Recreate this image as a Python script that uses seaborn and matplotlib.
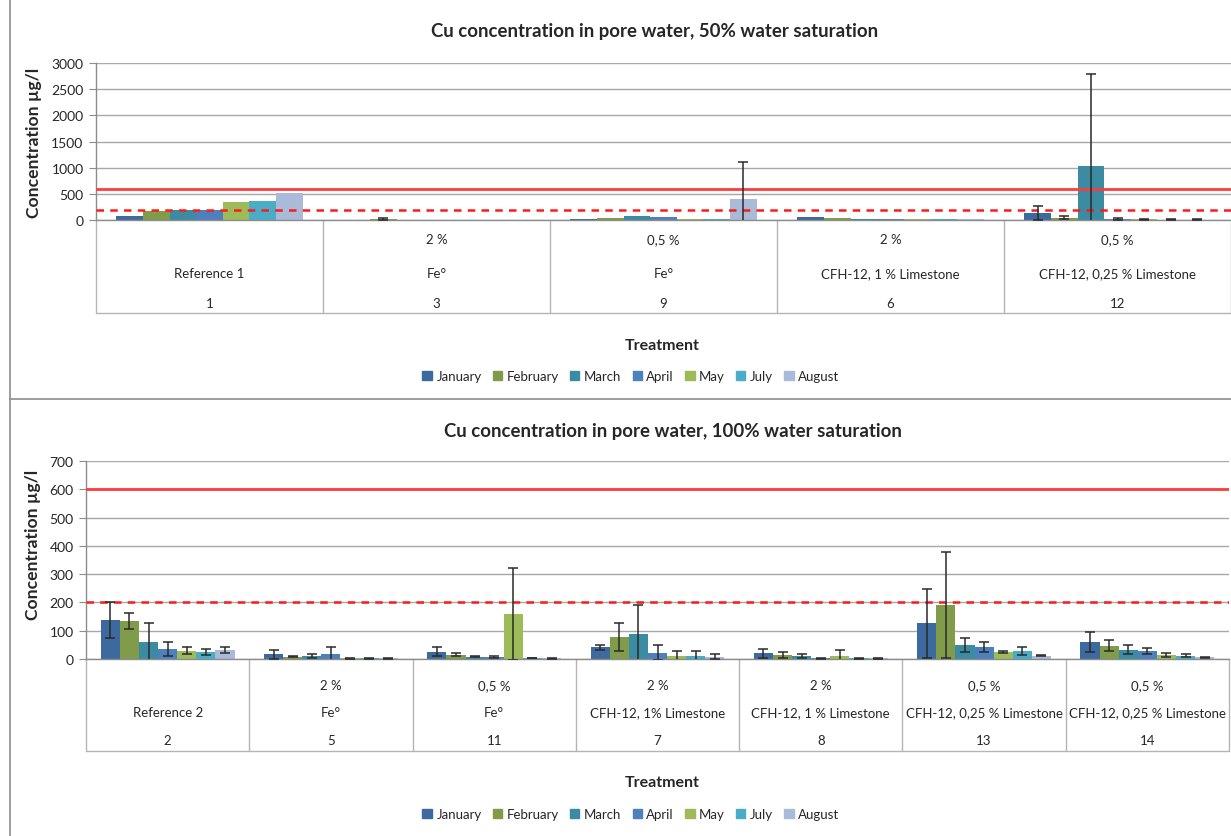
import numpy as np
import pandas as pd
import matplotlib
matplotlib.use("Agg")
import matplotlib.pyplot as plt
import matplotlib.transforms as mtrans
from matplotlib.lines import Line2D
import seaborn as sns

# ---------------- data ----------------
months = ["January", "February", "March", "April", "May", "July", "August"]
colors = ["#3D6A9E", "#809B4A", "#3B8BA2", "#4F80BE", "#9DBB58", "#4AADC7", "#AABAD9"]

top_groups = ["1", "3", "9", "6", "12"]
top_pct = ["", "2 %", "0,5 %", "2 %", "0,5 %"]
top_names = ["Reference 1", "Fe°", "Fe°", "CFH-12, 1 % Limestone", "CFH-12, 0,25 % Limestone"]
top_vals = {
    "January":  [77, 2, 13, 58, 141],
    "February": [173, 20, 38, 38, 45],
    "March":    [186, 3, 77, 19, 1030],
    "April":    [192, 8, 58, 19, 20],
    "May":      [340, 8, 19, 19, 15],
    "July":     [365, 8, 13, 13, 5],
    "August":   [519, 8, 410, 19, 5],
}
top_err = {
    "January":  [0, 0, 0, 0, 135],
    "February": [0, 15, 0, 0, 32],
    "March":    [0, 0, 0, 0, 1765],
    "April":    [0, 0, 0, 0, 25],
    "May":      [0, 0, 0, 0, 10],
    "July":     [0, 0, 0, 0, 5],
    "August":   [0, 0, 693, 0, 5],
}

bot_groups = ["2", "5", "11", "7", "8", "13", "14"]
bot_pct = ["", "2 %", "0,5 %", "2 %", "2 %", "0,5 %", "0,5 %"]
bot_names = ["Reference 2", "Fe°", "Fe°", "CFH-12, 1% Limestone", "CFH-12, 1 % Limestone",
             "CFH-12, 0,25 % Limestone", "CFH-12, 0,25 % Limestone"]
bot_vals = {
    "January":  [138, 17, 25, 41, 20, 127, 59],
    "February": [134, 8, 15, 77, 14, 192, 47],
    "March":    [61, 10, 8, 87, 9, 49, 33],
    "April":    [36, 17, 6, 22, 3, 41, 28],
    "May":      [29, 2, 158, 10, 12, 25, 14],
    "July":     [24, 2, 3, 10, 2, 28, 11],
    "August":   [32, 2, 2, 8, 2, 11, 6],
}
bot_err = {
    "January":  [65, 16, 16, 10, 17, 122, 35],
    "February": [28, 2, 6, 49, 9, 187, 19],
    "March":    [67, 7, 2, 104, 7, 26, 15],
    "April":    [25, 24, 4, 26, 2, 18, 10],
    "May":      [13, 1, 162, 17, 21, 5, 8],
    "July":     [10, 1, 1, 20, 1, 13, 5],
    "August":   [10, 1, 1, 8, 1, 2, 2],
}

limit_solid = 600
limit_dashed = 200

# ---------------- style ----------------
sns.set_style("white")
FONT = ["Lato", "DejaVu Sans"]
plt.rcParams["font.family"] = FONT
TXT = "#262626"
GRID = "#A8A8A8"
AX = "#8C8C8C"

W, H = 1231, 837
fig = plt.figure(figsize=(W / 100, H / 100), dpi=100)


def fx(px):
    return px / W


def fy(py):
    return 1 - py / H


def long_df(groups, vals):
    rows = []
    for m in months:
        for g, v in zip(groups, vals[m]):
            rows.append({"group": g, "month": m, "value": v})
    return pd.DataFrame(rows)


def draw_chart(rect, groups, pct, names, vals, errs, ymax, ystep, title, title_xy,
               ylab_xy, table_px, treat_xy, legend_xy, axis_bottom_px):
    ax = fig.add_axes(rect)
    df = long_df(groups, vals)
    sns.barplot(data=df, x="group", y="value", hue="month", order=groups,
                hue_order=months, palette=colors, width=0.82, saturation=1,
                errorbar=None, linewidth=0, ax=ax)
    # error bars
    for m, cont in zip(months, ax.containers):
        for i, bar in enumerate(cont):
            e = errs[m][i]
            if e and e > 0:
                xc = bar.get_x() + bar.get_width() / 2
                ax.errorbar(xc, bar.get_height(), yerr=e, fmt="none",
                            ecolor="#2A2A2A", elinewidth=1.1, capsize=3.5,
                            capthick=1.1, zorder=5, clip_on=True)
    ax.set_ylim(0, ymax)
    ax.set_xlim(-0.5, len(groups) - 0.5)
    ax.set_yticks(np.arange(0, ymax + 1, ystep))
    ax.yaxis.grid(True, color=GRID, lw=1.0)
    ax.set_axisbelow(True)
    ax.axhline(limit_solid, color="#FF3B3B", lw=2.0, zorder=4)
    ax.axhline(limit_dashed, color="#FF1A1A", lw=1.8, ls=(0, (3, 2.5)), zorder=4)
    for s in ["top", "right"]:
        ax.spines[s].set_visible(False)
    for s in ["left", "bottom"]:
        ax.spines[s].set_color(AX)
        ax.spines[s].set_linewidth(1.0)
    ax.tick_params(axis="y", left=True, length=5, color=AX, labelsize=10,
                   labelcolor=TXT, pad=4)
    ax.tick_params(axis="x", bottom=False, labelbottom=False)
    ax.set_xlabel("")
    ax.set_ylabel("Concentration µg/l", fontsize=12.6, fontweight="bold", color=TXT)
    ax.yaxis.set_label_coords(*ylab_xy)
    ax.legend_.remove()

    # category table below the axis
    tr = mtrans.blended_transform_factory(ax.transData, fig.transFigure)
    y_pct, y_name, y_num, y_bot = table_px
    for k in range(len(groups) + 1):
        xb = k - 0.5
        ax.add_line(Line2D([xb, xb], [fy(axis_bottom_px), fy(y_bot)], transform=tr,
                           color="#B4B4B4", lw=1.0, clip_on=False))
    ax.add_line(Line2D([-0.5, len(groups) - 0.5], [fy(y_bot), fy(y_bot)], transform=tr,
                       color="#B4B4B4", lw=1.0, clip_on=False))
    for i, g in enumerate(groups):
        for txt, yy in ((pct[i], y_pct), (names[i], y_name), (g, y_num)):
            if txt:
                ax.text(i, fy(yy), txt, transform=tr, ha="center", va="center",
                        fontsize=9.5, color=TXT)

    fig.text(fx(title_xy[0]), fy(title_xy[1]), title, ha="center", va="center",
             fontsize=13.4, fontweight="bold", color=TXT)
    fig.text(fx(treat_xy[0]), fy(treat_xy[1]), "Treatment", ha="center", va="center",
             fontsize=11.5, fontweight="bold", color=TXT)

    handles = [plt.Rectangle((0, 0), 1, 1, color=c) for c in colors]
    fig.legend(handles, months, loc="center", ncol=7, frameon=False,
               bbox_to_anchor=(fx(legend_xy[0]), fy(legend_xy[1])),
               fontsize=9.5, handlelength=0.7, handleheight=0.7,
               handletextpad=0.35, columnspacing=0.85, labelcolor=TXT)
    return ax


# top chart: plot area x 96..1231, y 64..221
draw_chart([fx(96), fy(221), fx(1231) - fx(96), (221 - 64) / H],
           top_groups, top_pct, top_names, top_vals, top_err, 3000, 500,
           "Cu concentration in pore water, 50% water saturation", (655, 32),
           (-0.048, 0.5), (240, 274, 304, 314), (662, 346), (631, 377), 221)

# bottom chart: plot area x 86..1229, y 462..660
draw_chart([fx(86), fy(660), fx(1229) - fx(86), (660 - 462) / H],
           bot_groups, bot_pct, bot_names, bot_vals, bot_err, 700, 100,
           "Cu concentration in pore water, 100% water saturation", (673, 431),
           (-0.039, 0.58), (686, 713, 741, 752), (662, 783), (631, 815), 660)

# chart frames
fig.add_artist(Line2D([fx(10), fx(10)], [0, 1], transform=fig.transFigure,
                      color=AX, lw=1.2))
fig.add_artist(Line2D([fx(10), 1], [fy(400), fy(400)], transform=fig.transFigure,
                      color=AX, lw=1.2))

fig.savefig("out.png", dpi=100, facecolor="white")
